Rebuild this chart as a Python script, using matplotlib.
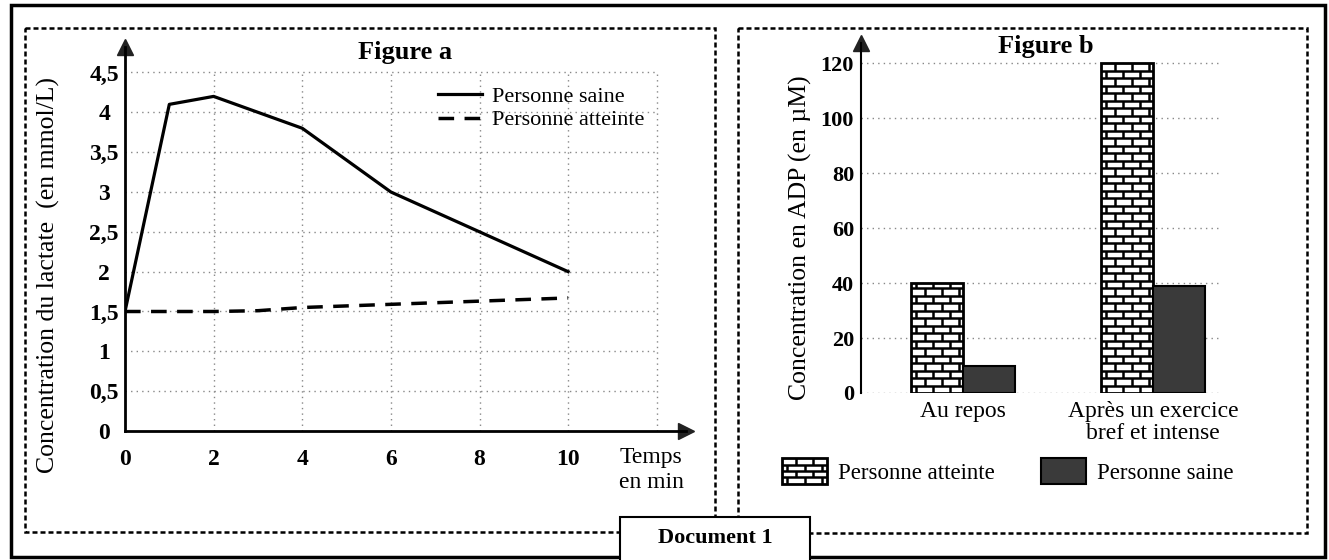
import numpy as np
import matplotlib
matplotlib.use("Agg")
import matplotlib.pyplot as plt
from matplotlib.patches import Rectangle
from matplotlib.collections import LineCollection
from matplotlib.legend_handler import HandlerBase

plt.rcParams['font.family'] = ['Liberation Serif', 'DejaVu Serif']

# ---- data : figure a (lactate) ----
temps = [0, 1, 2, 3, 4, 5, 6, 7, 8, 9, 10]
lactate_saine = [1.5, 4.1, 4.2, 4.0, 3.8, 3.4, 3.0, 2.75, 2.5, 2.25, 2.0]
lactate_atteinte = [1.5, 1.5, 1.5, 1.51, 1.55, 1.57, 1.59, 1.61, 1.63, 1.65, 1.67]
xticks_a = [0, 2, 4, 6, 8, 10]
yticks_a = [0, 0.5, 1, 1.5, 2, 2.5, 3, 3.5, 4, 4.5]
ylabels_a = ['0', '0,5', '1', '1,5', '2', '2,5', '3', '3,5', '4', '4,5']
grid_x_a = [2, 4, 6, 8, 10, 12]

# ---- data : figure b (ADP) ----
categories_b = ['Au repos', 'Après un exercice\nbref et intense']
adp_atteinte = [40, 120]
adp_saine = [10, 39]
yticks_b = [0, 20, 40, 60, 80, 100, 120]

W, H = 1329, 560
fig = plt.figure(figsize=(W / 100, H / 100), dpi=100)


def box(x0, y0, x1, y1):
    # pixel box (top-left origin) -> figure fraction rect
    return [x0 / W, 1 - y1 / H, (x1 - x0) / W, (y1 - y0) / H]


def brick_segments(x0, y0, w, h, row_h, brick_w):
    segs = []
    n_rows = int(np.ceil(h / row_h - 1e-9))
    for i in range(n_rows):
        yb = y0 + i * row_h
        yt = min(yb + row_h, y0 + h)
        if i > 0:
            segs.append([(x0, yb), (x0 + w, yb)])
        jx = x0 + (0.3 if i % 2 == 0 else 0.8) * brick_w
        while jx < x0 + w:
            if jx > x0:
                segs.append([(jx, yb), (jx, yt)])
            jx += brick_w
    return segs


class BrickHandler(HandlerBase):
    def create_artists(self, legend, orig_handle, xdescent, ydescent,
                       width, height, fontsize, trans):
        x0, y0 = -xdescent, -ydescent
        rect = Rectangle((x0, y0), width, height, facecolor='white',
                         edgecolor='black', lw=2, transform=trans)
        segs = brick_segments(x0, y0, width, height, height / 4, width / 2.6)
        lc = LineCollection(segs, colors='black', linewidths=1.8, transform=trans)
        return [rect, lc]


# ---- background frames ----
bg = fig.add_axes([0, 0, 1, 1], zorder=0)
bg.set_xlim(0, W)
bg.set_ylim(H, 0)
bg.axis('off')
bg.add_patch(Rectangle((11, 5), 1314, 552, fill=False, lw=2.5, ec='black'))
bg.add_patch(Rectangle((25, 28), 690, 504, fill=False, lw=1.8, ec='black',
                       ls=(0, (2, 1.2))))
bg.add_patch(Rectangle((738, 28), 569, 505, fill=False, lw=1.8, ec='black',
                       ls=(0, (2, 1.2))))
bg.add_patch(Rectangle((620, 517), 190, 45, fc='white', lw=1.5, ec='black', zorder=3))
bg.text(715, 538, 'Document 1', ha='center', va='center', fontsize=16,
        fontweight='bold', zorder=4)

# ---- figure a ----
ax = fig.add_axes(box(125, 47, 686, 431), zorder=1)
ax.patch.set_alpha(0)
ax.set_xlim(0, 12.66)
ax.set_ylim(0, 4.82)
ax.vlines(grid_x_a, 0, max(yticks_a), colors='#888888', linestyles=(0, (1, 3)), lw=1)
ax.hlines(yticks_a[1:], 0, max(grid_x_a), colors='#888888', linestyles=(0, (1, 3)), lw=1)
ax.plot(temps, lactate_saine, color='black', lw=2.3, label='Personne saine')
ax.plot(temps, lactate_atteinte, color='black', lw=2.5, ls=(0, (4.5, 3)),
        label='Personne atteinte')
for s in ['top', 'right']:
    ax.spines[s].set_visible(False)
for s in ['left', 'bottom']:
    ax.spines[s].set_linewidth(2)
ax.plot(1, 0, '>', ms=11, color='#222222', transform=ax.get_yaxis_transform(), clip_on=False)
ax.plot(0, 1, '^', ms=11, color='#222222', transform=ax.get_xaxis_transform(), clip_on=False)
ax.set_xticks(xticks_a)
ax.set_xticklabels([str(t) for t in xticks_a], fontsize=17, fontweight='bold')
ax.set_yticks(yticks_a)
ax.set_yticklabels(ylabels_a, fontsize=17, fontweight='bold', ha='center')
ax.tick_params(axis='x', length=0, pad=13)
ax.tick_params(axis='y', length=0, pad=15)
ax.set_ylabel('Concentration du lactate  (en mmol/L)', fontsize=18.5)
ax.yaxis.set_label_coords((60 - 125) / 561, (431 - 275) / 384)
ax.set_title('Figure a', fontsize=19, fontweight='bold', y=(431 - 52) / 384,
             va='center', pad=0)
ax.legend(loc='upper left', bbox_to_anchor=(438 / W, 1 - 86 / H),
          bbox_transform=fig.transFigure, frameon=False, fontsize=16,
          handlelength=2.0, handletextpad=0.45, labelspacing=0.15,
          borderpad=0, borderaxespad=0)
fig.text(651 / W, 1 - 470 / H, 'Temps\nen min', ha='center', va='center',
         fontsize=17, linespacing=1.2)

# ---- figure b ----
bx = fig.add_axes(box(861, 43, 1230, 393), zorder=1)
bx.patch.set_alpha(0)
bx.set_xlim(-0.537, 1.405)
bx.set_ylim(0, 127.3)
bx.hlines(yticks_b, -0.537, 1.36, colors='#888888', linestyles=(0, (1, 3)), lw=1)
pos = np.arange(len(categories_b))
wb = 0.274
bars_att = bx.bar(pos - wb / 2, adp_atteinte, wb, facecolor='white',
                  edgecolor='black', lw=2, zorder=2, label='Personne atteinte')
bars_sai = bx.bar(pos + wb / 2, adp_saine, wb, facecolor='#3a3a3a',
                  edgecolor='black', lw=1.5, zorder=2, label='Personne saine')

# brick pattern on the "atteinte" bars, sized in pixels
p0 = bx.transData.transform((0, 0))
p1 = bx.transData.transform((1, 1))
px_x, px_y = p1[0] - p0[0], p1[1] - p0[1]
for b in bars_att:
    segs = brick_segments(b.get_x(), b.get_y(), b.get_width(), b.get_height(),
                          7.5 / px_y, 17 / px_x)
    lc = LineCollection(segs, colors='black', linewidths=1.8, zorder=2.5)
    bx.add_collection(lc)
    lc.set_clip_path(b)

for s in ['top', 'right', 'bottom']:
    bx.spines[s].set_visible(False)
bx.spines['left'].set_linewidth(1.5)
bx.plot(-0.537, 1, '^', ms=11, color='#222222', transform=bx.get_xaxis_transform(), clip_on=False)
bx.set_xticks(pos)
bx.set_xticklabels(categories_b, fontsize=17, linespacing=1.05)
bx.set_yticks(yticks_b)
bx.set_yticklabels([str(v) for v in yticks_b], fontsize=16, fontweight='bold')
bx.tick_params(axis='x', length=0, pad=6)
bx.tick_params(axis='y', length=0, pad=5)
bx.set_ylabel('Concentration en ADP (en µM)', fontsize=18.5)
bx.yaxis.set_label_coords((812 - 861) / 369, (393 - 238) / 350)
bx.set_title('Figure b', fontsize=19, fontweight='bold', y=(393 - 47) / 350,
             va='center', pad=0)

fig.legend([bars_att[0], bars_sai[0]], ['Personne atteinte', 'Personne saine'],
           handler_map={bars_att[0]: BrickHandler()},
           loc='center', bbox_to_anchor=(1008 / W, 1 - 471 / H), ncol=2,
           frameon=False, fontsize=16.5, handlelength=1.95, handleheight=1.35,
           handletextpad=0.5, columnspacing=2.0, borderpad=0, borderaxespad=0)

fig.savefig('out.png', dpi=100)
